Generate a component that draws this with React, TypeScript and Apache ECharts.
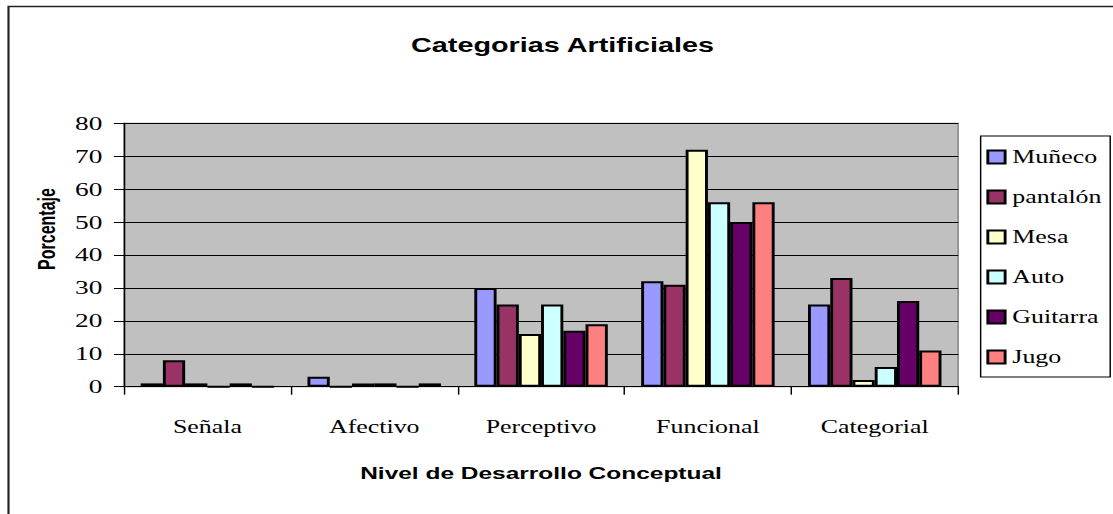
import React, { useEffect, useRef } from "react";
import * as echarts from "echarts";

// The reference picture is stretched horizontally; we draw at a narrower
// inner width and stretch it the same way.
const STRETCH = 1.44;
const OUT_W = 1113;
const OUT_H = 514;
const IN_W = OUT_W / STRETCH;

const categories = ["Señala", "Afectivo", "Perceptivo", "Funcional", "Categorial"];
const seriesNames = ["Muñeco", "pantalón", "Mesa", "Auto", "Guitarra", "Jugo"];
const muneco = [1, 3, 30, 32, 25];
const pantalon = [8, 0, 25, 31, 33];
const mesa = [1, 1, 16, 72, 2];
const auto = [0, 1, 25, 56, 6];
const guitarra = [1, 0, 17, 50, 26];
const jugo = [0, 1, 19, 56, 11];
const seriesValues = [muneco, pantalon, mesa, auto, guitarra, jugo];
const colors = ["#9999FF", "#993366", "#FFFFCC", "#CCFFFF", "#660066", "#FF8080"];
const yMin = 0;
const yMax = 80;
const yStep = 10;

const titleText = "Categorias Artificiales";
const xName = "Nivel de Desarrollo Conceptual";
const yName = "Porcentaje";

const SERIF = "'Liberation Serif', 'Times New Roman', serif";
const SANS = "'Liberation Sans', Arial, sans-serif";

export default function App() {
  const ref = useRef<HTMLDivElement>(null);

  useEffect(() => {
    if (!ref.current) return;
    const chart = echarts.init(ref.current, undefined, { renderer: "svg" });
    const option: any = {
      animation: false,
      backgroundColor: "#FFFFFF",
      grid: {
        left: 86.1,
        right: IN_W - 665.3,
        top: 123.3,
        bottom: OUT_H - 386.7,
        show: true,
        backgroundColor: "#C0C0C0",
        borderColor: "#808080",
        borderWidth: 1,
        containLabel: false,
      },
      legend: {
        orient: "vertical",
        left: 681,
        top: 136,
        padding: [12, 6, 11, 4],
        itemGap: 22,
        itemWidth: 12,
        itemHeight: 13,
        icon: "rect",
        borderColor: "#000",
        borderWidth: 1,
        backgroundColor: "#FFFFFF",
        textStyle: { fontFamily: SERIF, fontSize: 18, color: "#000", padding: [0, 0, 0, 0] },
        data: seriesNames,
      },
      xAxis: {
        type: "category",
        data: categories,
        axisLine: { lineStyle: { color: "#000", width: 1 } },
        axisTick: { show: true, alignWithLabel: false, length: 8, lineStyle: { color: "#000" } },
        axisLabel: { fontFamily: SERIF, fontSize: 18, color: "#000", margin: 31 },
        splitLine: { show: false },
      },
      yAxis: {
        type: "value",
        min: yMin,
        max: yMax,
        interval: yStep,
        axisLine: { show: true, lineStyle: { color: "#000", width: 1 } },
        axisTick: { show: true, length: 7, lineStyle: { color: "#000" } },
        axisLabel: { fontFamily: SERIF, fontSize: 19, color: "#000", margin: 15 },
        splitLine: { show: true, lineStyle: { color: "#000", width: 1 } },
      },
      series: seriesNames.map((name, i) => ({
        name,
        type: "bar",
        data: seriesValues[i],
        barGap: "0%",
        barCategoryGap: "20%",
        itemStyle: { color: colors[i], borderColor: "#000", borderWidth: 2 },
        emphasis: { disabled: true },
      })),
      graphic: [
        {
          type: "rect",
          silent: true,
          shape: { x: 5.9, y: 6.5, width: IN_W + 20, height: OUT_H + 20 },
          style: { fill: "none", stroke: "#222", lineWidth: 1.5 },
        },
        {
          type: "text",
          x: 390.6,
          y: 44.7,
          style: {
            text: titleText,
            fontFamily: SANS,
            fontWeight: "bold",
            fontSize: 20,
            fill: "#000",
            align: "center",
            verticalAlign: "middle",
          },
        },
        {
          type: "text",
          x: 375.7,
          y: 472.5,
          style: {
            text: xName,
            fontFamily: SANS,
            fontWeight: "bold",
            fontSize: 17,
            fill: "#000",
            align: "center",
            verticalAlign: "middle",
          },
        },
        {
          type: "text",
          x: 32.6,
          y: 229,
          rotation: Math.PI / 2,
          style: {
            text: yName,
            fontFamily: SANS,
            fontWeight: "bold",
            fontSize: 16,
            fill: "#000",
            align: "center",
            verticalAlign: "middle",
          },
        },
      ],
    };
    chart.setOption(option);
    return () => chart.dispose();
  }, []);

  return (
    <div
      style={{
        position: "absolute",
        left: 0,
        top: 0,
        width: OUT_W,
        height: OUT_H,
        overflow: "hidden",
        background: "#fff",
      }}
    >
      <div
        ref={ref}
        style={{
          width: IN_W,
          height: OUT_H,
          transform: `scaleX(${STRETCH})`,
          transformOrigin: "0 0",
        }}
      />
    </div>
  );
}
